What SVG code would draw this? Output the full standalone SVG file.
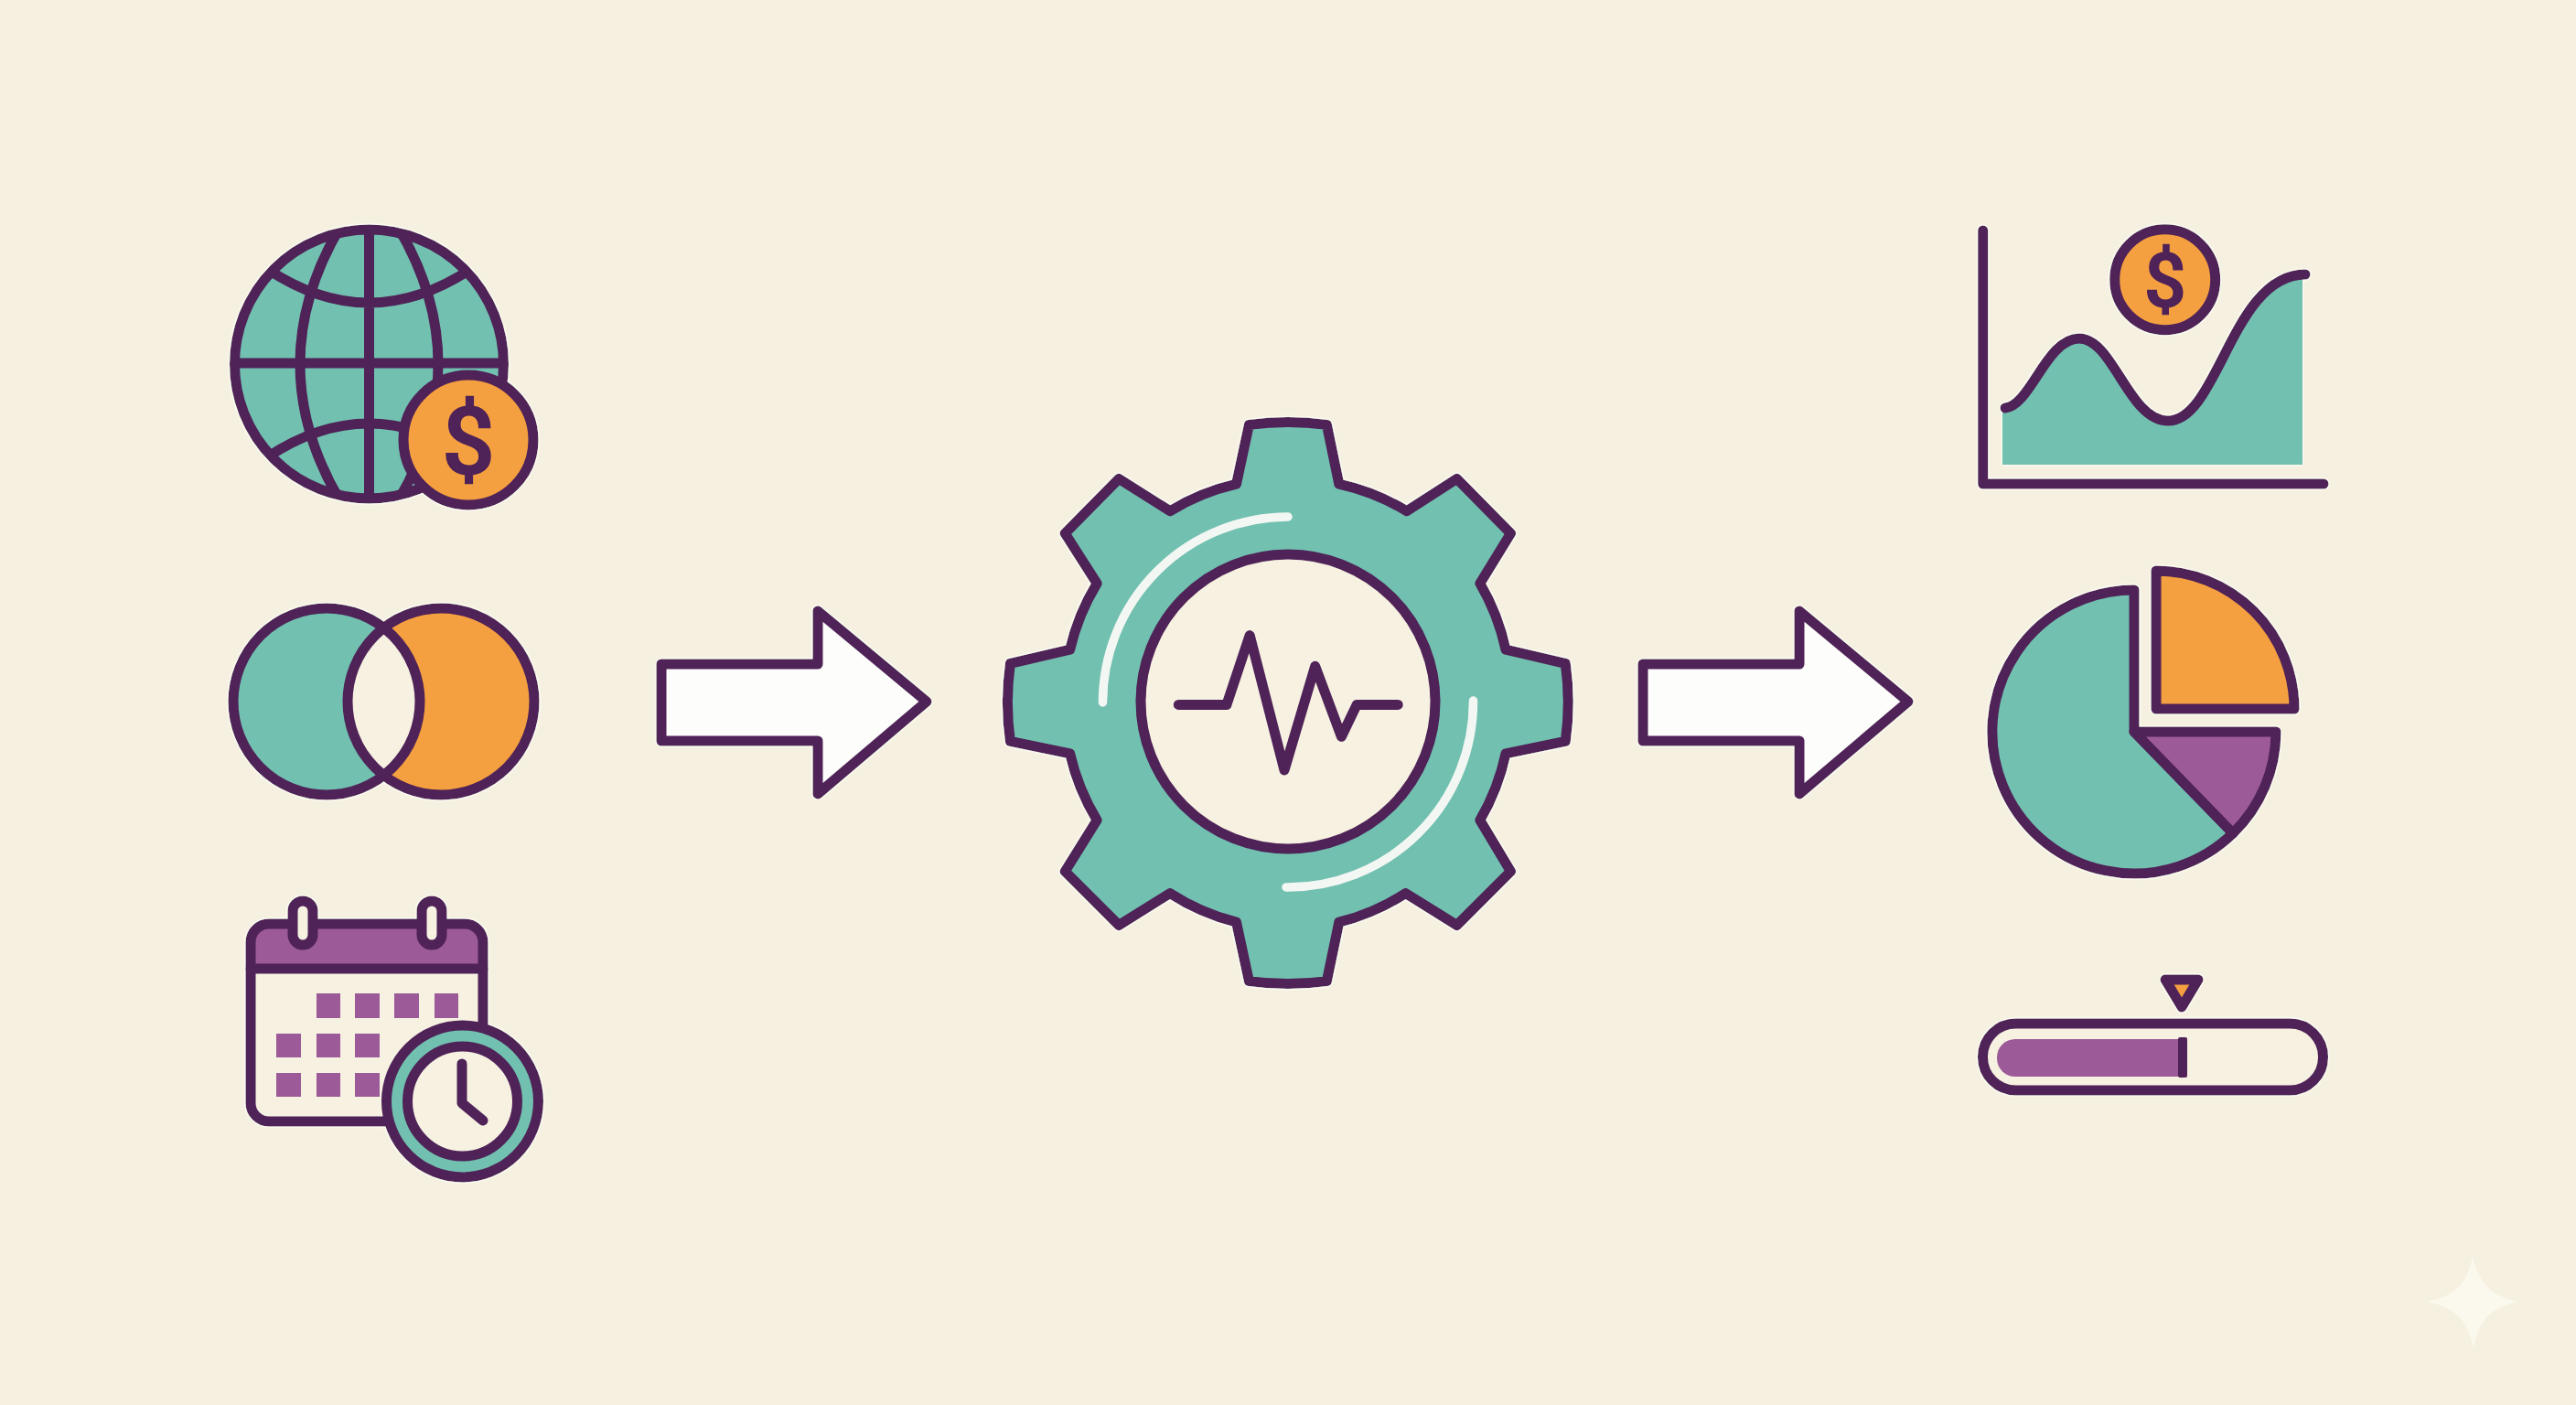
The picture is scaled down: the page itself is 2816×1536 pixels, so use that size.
<svg xmlns="http://www.w3.org/2000/svg" width="2816" height="1536" viewBox="0 0 2816 1536">
<style>
.o{stroke:#4f2358;stroke-width:11;stroke-linejoin:round;stroke-linecap:round}
.l{fill:none;stroke:#4f2358;stroke-width:11;stroke-linejoin:round;stroke-linecap:round}
.t{fill:#72c0b0}.g{fill:#f5a041}.p{fill:#9c5a98}.c{fill:#f6f1e1}.w{fill:#fdfdfb}
.h{fill:none;stroke:#f3f7f3;stroke-width:9.5;stroke-linecap:round}
.d{font-family:Roboto,"Liberation Sans",Arial,sans-serif;font-weight:500;fill:#4f2358;stroke:#4f2358;stroke-width:1.5;text-anchor:middle}
</style>
<defs>
<filter id="halo" x="-5%" y="-5%" width="110%" height="110%">
<feGaussianBlur in="SourceAlpha" stdDeviation="1.6"/>
<feComponentTransfer result="m"><feFuncA type="linear" slope="4" intercept="-0.1"/></feComponentTransfer>
<feFlood flood-color="#fdfcf6" flood-opacity="0.75"/>
<feComposite in2="m" operator="in" result="f"/>
<feMerge><feMergeNode in="f"/><feMergeNode in="SourceGraphic"/></feMerge>
</filter>
<clipPath id="gc"><circle cx="403.5" cy="398" r="147"/></clipPath>
<clipPath id="vl"><circle cx="357" cy="767" r="102"/></clipPath>
<path id="arrow" d="M723 726H894V668L1013 767L894 868V810H723Z"/>
</defs>
<rect width="2816" height="1536" fill="#f5f0e0"/>
<path id="sparkle" fill="#fbf8ee" d="M2703 1373C2710 1403 2722 1416 2752 1423C2722 1430 2710 1443 2704 1474C2697 1443 2685 1430 2654 1423C2685 1416 2697 1403 2703 1373Z"/>

<g id="connectors">
<use href="#arrow" class="o w" filter="url(#halo)"/>
<use href="#arrow" x="1073" class="o w" filter="url(#halo)"/>
</g>

<g id="node-globe" filter="url(#halo)">
<circle cx="403.5" cy="398" r="147" class="t"/>
<g clip-path="url(#gc)" class="l">
<path d="M375 243Q328 320 328 398Q328 476 375 553M432 243Q479 320 479 398Q479 476 432 553"/>
<path d="M403.5 250V546M256 397H551M292 294Q403 368 515 294M292 500Q403 426 515 500"/>
</g>
<circle cx="403.5" cy="398" r="147" class="l"/>
<circle cx="512" cy="481" r="71" class="o g"/>
<text x="512" y="518" font-size="102" class="d">$</text>
</g>

<g id="node-venn" filter="url(#halo)">
<circle cx="357" cy="767" r="102" class="t"/>
<circle cx="482" cy="767" r="102" class="g"/>
<circle cx="482" cy="767" r="102" class="c" clip-path="url(#vl)"/>
<circle cx="357" cy="767" r="102" class="l"/>
<circle cx="482" cy="767" r="102" class="l"/>
</g>

<g id="node-calendar" filter="url(#halo)">
<rect x="274" y="1010" width="254" height="216" rx="20" class="c"/>
<path d="M274 1059V1030A20 20 0 0 1 294 1010H508A20 20 0 0 1 528 1030V1059Z" class="p"/>
<rect x="274" y="1010" width="254" height="216" rx="20" class="l"/>
<path d="M274 1059H528" class="l"/>
<rect x="320" y="985" width="22" height="48" rx="11" class="o c"/>
<rect x="461" y="985" width="22" height="48" rx="11" class="o c"/>
<g class="p">
<rect x="346" y="1086" width="26" height="27"/><rect x="388" y="1086" width="27" height="27"/><rect x="431" y="1086" width="27" height="27"/><rect x="475" y="1086" width="26" height="27"/>
<rect x="302" y="1130" width="27" height="26"/><rect x="346" y="1130" width="26" height="26"/><rect x="388" y="1130" width="27" height="26"/>
<rect x="302" y="1173" width="27" height="26"/><rect x="346" y="1173" width="26" height="26"/><rect x="388" y="1173" width="27" height="26"/>
</g>
<circle cx="505.5" cy="1204" r="83" class="o t"/>
<circle cx="505.5" cy="1204" r="60" class="o c"/>
<path d="M505 1163V1206L528 1225" class="l"/>
</g>

<g id="node-gear" filter="url(#halo)">
<path class="o t" d="M1365.4 464.4A306 306 0 0 1 1450.4 464.4L1463.8 529.2A245 245 0 0 1 1537.9 558.7L1592.6 523.3L1651.5 583.1L1617.9 637.8A245 245 0 0 1 1646 710.2L1711.3 725.4A306 306 0 0 1 1711.3 810.4L1646 823.8A245 245 0 0 1 1617.9 896.6L1651.5 952.6L1592.6 1011.5L1536.6 976.6A245 245 0 0 1 1463.8 1008.2L1450.4 1072.6A306 306 0 0 1 1365.4 1072.6L1351.5 1008.2A245 245 0 0 1 1279 976.6L1223.1 1011.5L1164.2 952.6L1199.1 896.6A245 245 0 0 1 1169.6 823.8L1104.4 810.4A306 306 0 0 1 1104.4 725.4L1169.6 710.2A245 245 0 0 1 1199.1 637.8L1164.2 583.1L1223.1 523.3L1279 558.7A245 245 0 0 1 1351.5 529.2Z"/>
<circle cx="1408" cy="767" r="161" class="o c"/>
<path class="h" d="M1205.5 768A203 203 0 0 1 1408 565"/>
<path class="h" d="M1610.5 766A203 203 0 0 1 1406 970"/>
<path class="l" d="M1288.3 770.4H1340.9L1366.2 694.6L1404 841.9L1437.7 728.3L1466.4 805.3L1483.2 770.4H1528.2"/>
</g>

<g id="node-chart" filter="url(#halo)">
<path class="t" d="M2189 446C2220 443 2237 370 2273 370C2310 370 2327 460 2370 460C2425 460 2440 300 2517 300V508H2189Z"/>
<path class="l" d="M2192 446C2220 443 2237 370 2273 370C2310 370 2327 460 2370 460C2425 460 2440 300 2520 300"/>
<path class="l" d="M2167.7 252V529H2540"/>
<circle cx="2366.7" cy="305.7" r="55" class="o g"/>
<text x="2366.7" y="335" font-size="81" class="d">$</text>
</g>

<g id="node-pie" filter="url(#halo)">
<path class="o t" d="M2333 800V645A155 155 0 1 0 2441 911Z"/>
<path class="o p" d="M2333 800H2488A155 155 0 0 1 2441 911Z"/>
<path class="o g" d="M2357 775V624A151 151 0 0 1 2508 775Z"/>
</g>

<g id="node-progress" filter="url(#halo)">
<rect x="2167.5" y="1119" width="372" height="73" rx="36" class="o c"/>
<path class="p" d="M2382 1136H2203A20 20 0 0 0 2183 1156V1157A20 20 0 0 0 2203 1177H2382Z"/>
<rect x="2381" y="1134" width="10" height="44" rx="2" fill="#4f2358"/>
<path class="o g" d="M2367 1071H2403L2385 1101Z"/>
</g>
</svg>
